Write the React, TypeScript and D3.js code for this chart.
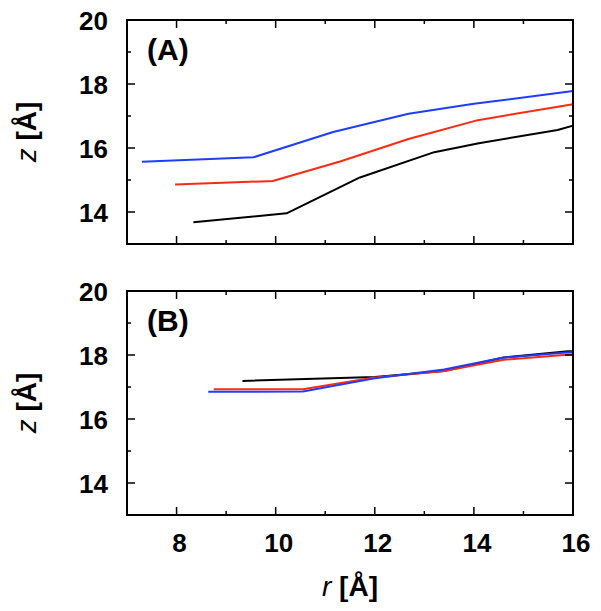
import React from "react";
import * as d3 from "d3";

const xTicks = [8, 10, 12, 14, 16];
const yTicks = [14, 16, 18, 20];

// Panel A series: [r, z]
const aBlack: [number, number][] = [[8.34, 13.68], [10.22, 13.96], [11.7, 15.08], [13.2, 15.87], [14.1, 16.15], [15.69, 16.56], [16, 16.7]];
const aRed: [number, number][] = [[7.97, 14.86], [9.94, 14.97], [11.3, 15.58], [12.68, 16.28], [14.08, 16.87], [16, 17.37]];
const aBlue: [number, number][] = [[7.3, 15.57], [9.55, 15.71], [11.16, 16.5], [12.68, 17.07], [14.0, 17.38], [16, 17.78]];

// Panel B series
const bBlack: [number, number][] = [[9.33, 17.19], [12.0, 17.31], [13.4, 17.5], [14.6, 17.92], [15.9, 18.12], [16, 18.12]];
const bRed: [number, number][] = [[8.75, 16.93], [10.55, 16.93], [12.0, 17.3], [13.4, 17.5], [14.6, 17.85], [16, 18.02]];
const bBlue: [number, number][] = [[8.64, 16.85], [10.55, 16.86], [12.0, 17.27], [13.4, 17.55], [14.6, 17.92], [16, 18.09]];

const panels = [
  { label: "(A)", top: 20, series: [aBlack, aRed, aBlue] },
  { label: "(B)", top: 291, series: [bBlack, bRed, bBlue] },
];
const colors = ["#000000", "#ff2a14", "#1f3dff"];

const W = 601, H = 611;
const left = 127, right = 573, ph = 224;
const font = "'Liberation Sans', Arial, Helvetica, sans-serif";

function Panel({ label, top, series, showX }: { label: string; top: number; series: [number, number][][]; showX: boolean }) {
  const x = d3.scaleLinear().domain([7, 16]).range([left, right]);
  const y = d3.scaleLinear().domain([13, 20]).range([top + ph, top]);
  const line = d3.line<[number, number]>().x(d => x(d[0])).y(d => y(d[1]));
  const xAll = d3.range(7, 17, 1);
  const yAll = d3.range(13, 21, 1);
  return (
    <g>
      {series.map((s, i) => (
        <path key={i} d={line(s) || ""} fill="none" stroke={colors[i]} strokeWidth={2} strokeLinejoin="round" />
      ))}
      {xAll.map(v => {
        const len = v % 2 === 0 ? 8 : 4;
        return (
          <g key={"x" + v}>
            <line x1={x(v)} x2={x(v)} y1={top + ph} y2={top + ph - len} stroke="#000" strokeWidth={1.5} />
            <line x1={x(v)} x2={x(v)} y1={top} y2={top + len} stroke="#000" strokeWidth={1.5} />
          </g>
        );
      })}
      {yAll.map(v => {
        const len = v % 2 === 0 ? 8 : 4;
        return (
          <g key={"y" + v}>
            <line x1={left} x2={left + len} y1={y(v)} y2={y(v)} stroke="#000" strokeWidth={1.5} />
            <line x1={right} x2={right - len} y1={y(v)} y2={y(v)} stroke="#000" strokeWidth={1.5} />
          </g>
        );
      })}
      <rect x={left} y={top} width={right - left} height={ph} fill="none" stroke="#000" strokeWidth={2} />
      {yTicks.map(v => (
        <text key={"yl" + v} x={108} y={y(v) + 9.5} textAnchor="end" fontFamily={font} fontWeight="bold" fontSize={26}>{v}</text>
      ))}
      {showX && xTicks.map(v => (
        <text key={"xl" + v} x={x(v) + 3} y={top + ph + 37} textAnchor="middle" fontFamily={font} fontWeight="bold" fontSize={26}>{v}</text>
      ))}
      <text x={147} y={top + 40} fontFamily={font} fontWeight="bold" fontSize={30}>{label}</text>
      <text transform={`translate(36,${top + ph / 2}) rotate(-90)`} textAnchor="middle" fontFamily={font} fontWeight="bold" fontSize={28}>
        <tspan fontStyle="italic" fontWeight="normal">z</tspan> [Å]
      </text>
    </g>
  );
}

export default function App() {
  return (
    <svg width={W} height={H} style={{ position: "absolute", left: 0, top: 0, background: "#fff" }}>
      {panels.map((p, i) => (
        <Panel key={i} label={p.label} top={p.top} series={p.series} showX={i === 1} />
      ))}
      <text x={350} y={596} textAnchor="middle" fontFamily={font} fontWeight="bold" fontSize={28}>
        <tspan fontStyle="italic" fontWeight="normal">r</tspan> [Å]
      </text>
    </svg>
  );
}
